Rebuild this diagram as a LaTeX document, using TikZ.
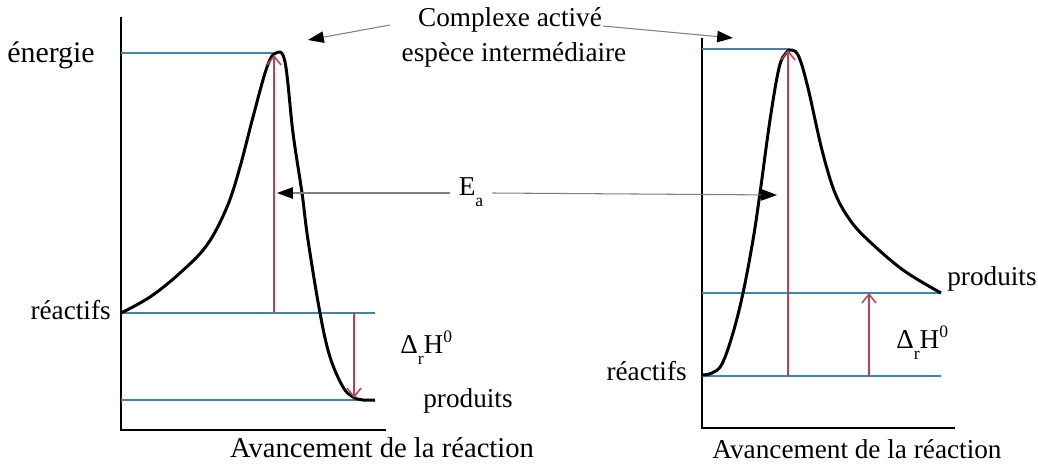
\documentclass[tikz,border=0pt]{standalone}
\usepackage{fontspec}
\setmainfont{Liberation Serif}
\usetikzlibrary{arrows.meta,positioning}
\definecolor{levelblue}{HTML}{3F86AA}
\definecolor{gapred}{HTML}{C0404C}

\newcommand{\lowidx}[1]{\raisebox{-6.5pt}{\fontsize{10}{10}\selectfont #1}}
\newcommand{\highidx}[1]{\raisebox{6pt}{\fontsize{10}{10}\selectfont #1}}

\tikzset{
  axis/.style={line width=1.3pt, black},
  level/.style={line width=1.7pt, levelblue},
  profile/.style={line width=1.7pt, black, line join=round},
  gap/.style={line width=0.85pt, gapred, -{Straight Barb[length=5pt,width=8pt]}},
  pointer/.style={line width=0.6pt, gray, -{Triangle[length=9pt,width=6.5pt,color=black]}},
  lbl/.style={font=\fontsize{15.5}{18}\selectfont, inner sep=0pt}
}

\begin{document}
\begin{tikzpicture}[x=0.02cm, y=-0.02cm]
  \useasboundingbox (0,0) rectangle (1038,466);

  % exothermique (gauche)
  \draw[axis] (121,17) -- (121,430) -- (386,430);
  \draw[level] (121,53) -- (273,53);
  \draw[level] (121,313) -- (375,313);
  \draw[level] (121,400) -- (375,400);
  \draw[profile] plot[smooth, tension=0.6] coordinates {
    (121,313) (150,297) (180,273) (207,245) (227,207) (240,167) (253,117)
    (267,67) (276,53) (285,62) (293,133) (302,193) (308,240) (320,313)
    (330,357) (343,387) (353,397) (363,400) (375,400)};
  \coordinate (eaL-bot) at (274,313);
  \coordinate (eaL-top) at (274,55);
  \coordinate (dhL-top) at (354,313);
  \coordinate (dhL-bot) at (354,398);
  \draw[gap] (eaL-bot) -- (eaL-top);
  \draw[gap] (dhL-top) -- (dhL-bot);

  \node[lbl, font=\fontsize{17}{20}\selectfont, anchor=base east] (energie) at (95,63) {énergie};
  \node[lbl, anchor=base east] (reacL) at (111,319) {réactifs};
  \node[lbl, anchor=base west] (dhL) at (400,353) {Δ\lowidx{r}H\highidx{0}};
  \node[lbl, anchor=base west] (prodL) at (423,407) {produits};
  \node[lbl, font=\fontsize{16.3}{19}\selectfont, anchor=base] (avL) at (382,457) {Avancement de la réaction};

  % endothermique (droite)
  \draw[axis] (702,38) -- (702,428) -- (955,428);
  \draw[level] (702,49) -- (790,49);
  \draw[level] (702,293) -- (941,293);
  \draw[level] (702,376) -- (941,376);
  \draw[profile] plot[smooth, tension=0.6] coordinates {
    (702,375) (712,373) (722,364) (733,333) (743,293) (753,240) (760,193)
    (770,120) (779,68) (786,53) (792,50) (799,57) (808,88) (822,150)
    (835,193) (850,220) (868,240) (903,270) (941,293)};
  \coordinate (eaR-bot) at (788,376);
  \coordinate (eaR-top) at (788,50);
  \coordinate (dhR-bot) at (869,376);
  \coordinate (dhR-top) at (869,293);
  \draw[gap] (eaR-bot) -- (eaR-top);
  \draw[gap] (dhR-bot) -- (dhR-top);

  \node[lbl, anchor=base west] (prodR) at (947,285) {produits};
  \node[lbl, anchor=base west] (dhR) at (896,348) {Δ\lowidx{r}H\highidx{0}};
  \node[lbl, anchor=base east] (reacR) at (687,380) {réactifs};
  \node[lbl, anchor=base] (avR) at (857,458) {Avancement de la réaction};

  % annotations communes
  \node[lbl, anchor=base] (complexe) at (510,27) {Complexe activé};
  \node[lbl, anchor=base] (espece) at (514,62) {espèce intermédiaire};
  \node[lbl, inner xsep=5pt] (ea) at (471,192) {E\lowidx{a}};
  \coordinate (cxL) at (390,25);
  \coordinate (cxR) at (603,26);
  \coordinate (ptrL) at (308,40);
  \coordinate (ptrR) at (733,38);
  \coordinate (eaL) at (277,193);
  \coordinate (eaR) at (777,195);
  \draw[pointer] (cxL) -- (ptrL);
  \draw[pointer] (cxR) -- (ptrR);
  \draw[pointer] (ea.west |- 0,193) -- (eaL);
  \draw[pointer] (ea.east |- 0,193) -- (eaR);
\end{tikzpicture}
\end{document}
